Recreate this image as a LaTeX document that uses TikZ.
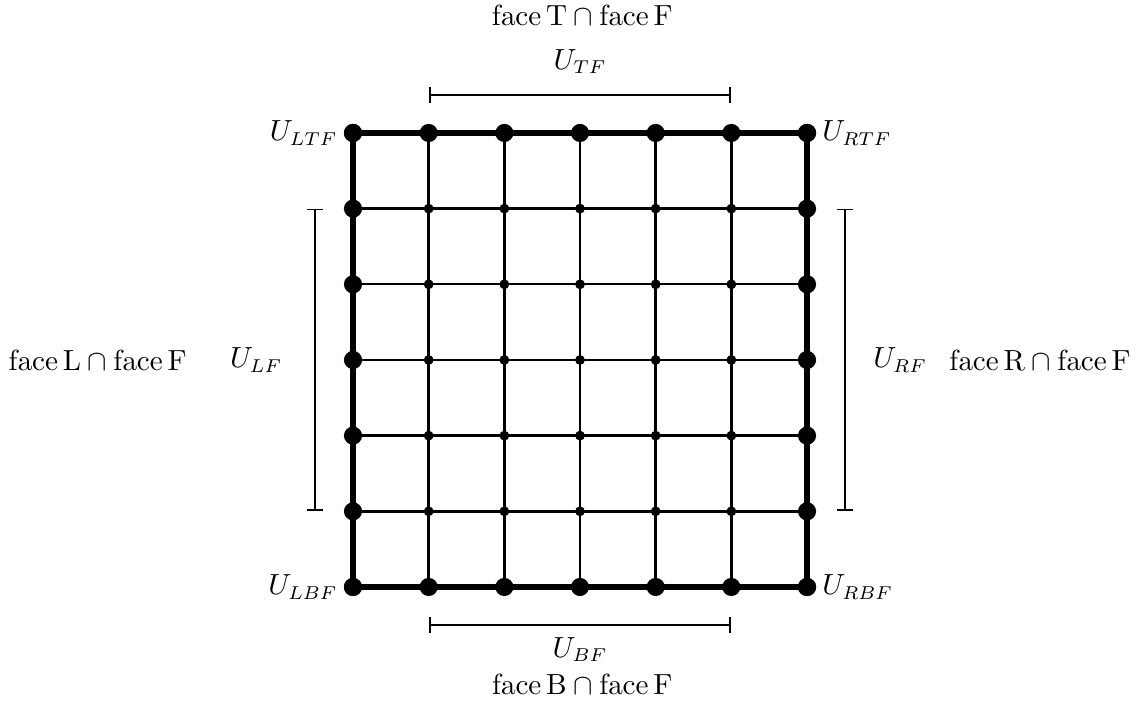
\documentclass[tikz,border=0pt]{standalone}
\usepackage{tikz}
\usetikzlibrary{arrows.meta,positioning}

\begin{document}
\begin{tikzpicture}[node distance=0.1cm,font=\fontsize{10.6}{12.7}\selectfont]
    \tikzset{bigdot/.style={circle,fill=black,inner sep=0pt,minimum size=0.24cm},
      smalldot/.style={circle,fill=black,inner sep=0pt,minimum size=0.13cm},
      edgeline/.style={line width=2.2pt},
      gridline/.style={line width=0.9pt},
      span/.style={line width=0.7pt,{Bar[width=2.1mm]}-{Bar[width=2.1mm]}}}
    \useasboundingbox (-4.665,-1.559) rectangle (10.374,7.757);
    % grid points
    \foreach \i in {0,...,6} {
      \foreach \j in {0,...,6} {
        \coordinate (g-\i-\j) at (\i,\j);
      }
    }
    % interior lines
    \foreach \k in {1,...,5} {
      \draw[gridline] (g-\k-0) -- (g-\k-6);
      \draw[gridline] (g-0-\k) -- (g-6-\k);
    }
    % boundary of the face
    \draw[edgeline] (g-0-0) -- (g-6-0) -- (g-6-6) -- (g-0-6) -- cycle;
    % dots
    \foreach \i in {1,...,5} {
      \foreach \j in {1,...,5} {
        \node[smalldot] (d-\i-\j) at (g-\i-\j) {};
      }
    }
    \foreach \k in {0,...,6} {
      \node[bigdot] (b-\k-0) at (g-\k-0) {};
      \node[bigdot] (b-\k-6) at (g-\k-6) {};
      \node[bigdot] (b-0-\k) at (g-0-\k) {};
      \node[bigdot] (b-6-\k) at (g-6-\k) {};
    }
    % corner labels
    \node[left=0.08cm of g-0-6] (ltf) {$U_{LTF}$};
    \node[right=0.08cm of g-6-6] (rtf) {$U_{RTF}$};
    \node[left=0.08cm of g-0-0] (lbf) {$U_{LBF}$};
    \node[right=0.08cm of g-6-0] (rbf) {$U_{RBF}$};
    % spans along the edges
    \coordinate (t1) at (1,6.5); \coordinate (t2) at (5,6.5);
    \coordinate (b1) at (1,-0.5); \coordinate (b2) at (5,-0.5);
    \coordinate (l1) at (-0.5,1); \coordinate (l2) at (-0.5,5);
    \coordinate (r1) at (6.5,1); \coordinate (r2) at (6.5,5);
    \draw[span] (t1) -- (t2);
    \draw[span] (b1) -- (b2);
    \draw[span] (l1) -- (l2);
    \draw[span] (r1) -- (r2);
    \node (utf) at (3,6.94) {$U_{TF}$};
    \node (topface) at (3.03,7.55) {$\mathrm{face\,T}\cap\mathrm{face\,F}$};
    \node (ubf) at (3,-0.83) {$U_{BF}$};
    \node (botface) at (3.03,-1.29) {$\mathrm{face\,B}\cap\mathrm{face\,F}$};
    \node (ulf) at (-1.28,3) {$U_{LF}$};
    \node (leftface) at (-3.375,3) {$\mathrm{face\,L}\cap\mathrm{face\,F}$};
    \node (urf) at (7.23,3) {$U_{RF}$};
    \node (rightface) at (9.08,3) {$\mathrm{face\,R}\cap\mathrm{face\,F}$};
  \end{tikzpicture}
\end{document}
